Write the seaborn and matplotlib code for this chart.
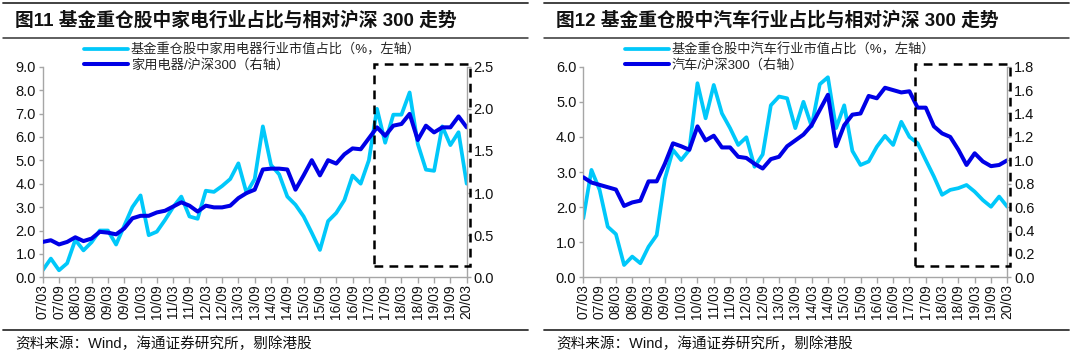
import numpy as np
import pandas as pd
import seaborn as sns
import matplotlib.pyplot as plt
from matplotlib.lines import Line2D
from matplotlib.patches import Rectangle

# quarterly data, 2007Q1 - 2020Q1
quarters = ['07/03', '07/06', '07/09', '07/12', '08/03', '08/06', '08/09', '08/12',
            '09/03', '09/06', '09/09', '09/12', '10/03', '10/06', '10/09', '10/12',
            '11/03', '11/06', '11/09', '11/12', '12/03', '12/06', '12/09', '12/12',
            '13/03', '13/06', '13/09', '13/12', '14/03', '14/06', '14/09', '14/12',
            '15/03', '15/06', '15/09', '15/12', '16/03', '16/06', '16/09', '16/12',
            '17/03', '17/06', '17/09', '17/12', '18/03', '18/06', '18/09', '18/12',
            '19/03', '19/06', '19/09', '19/12', '20/03']

# fig 11: home appliances
appl_share = [0.3, 0.8, 0.3, 0.6, 1.6, 1.15, 1.5, 2.0, 2.0, 1.4, 2.2, 3.0, 3.5, 1.8,
              1.95, 2.45, 3.0, 3.45, 2.6, 2.5, 3.7, 3.65, 3.9, 4.2, 4.87, 3.6, 4.2,
              6.45, 4.8, 4.4, 3.45, 3.1, 2.6, 1.9, 1.17, 2.4, 2.75, 3.3, 4.35, 4.0,
              5.0, 7.2, 5.75, 6.95, 6.95, 7.9, 5.7, 4.6, 4.55, 6.45, 5.65, 6.2, 4.0]
appl_rel = [0.42, 0.44, 0.39, 0.42, 0.475, 0.43, 0.46, 0.54, 0.53, 0.51, 0.58, 0.70,
            0.73, 0.73, 0.77, 0.79, 0.84, 0.89, 0.85, 0.78, 0.85, 0.83, 0.83, 0.85,
            0.94, 1.0, 1.04, 1.28, 1.29, 1.29, 1.28, 1.04, 1.21, 1.39, 1.21, 1.39,
            1.35, 1.46, 1.53, 1.52, 1.65, 1.78, 1.68, 1.80, 1.82, 1.94, 1.63, 1.80,
            1.72, 1.78, 1.78, 1.91, 1.78]

# fig 12: autos
auto_share = [1.68, 3.06, 2.49, 1.44, 1.23, 0.35, 0.59, 0.40, 0.87, 1.2, 2.8, 3.63,
              3.34, 3.63, 5.53, 4.53, 5.48, 4.67, 4.25, 3.77, 3.99, 3.15, 3.5, 4.9,
              5.15, 5.1, 4.25, 5.0, 4.3, 5.5, 5.7, 4.25, 4.9, 3.6, 3.2, 3.3, 3.72,
              4.03, 3.77, 4.43, 4.0, 3.82, 3.34, 2.87, 2.35, 2.49, 2.54, 2.63, 2.44,
              2.2, 2.01, 2.3, 2.01]
auto_rel = [0.855, 0.81, 0.79, 0.77, 0.75, 0.61, 0.64, 0.655, 0.82, 0.82, 0.97, 1.145,
            1.12, 1.09, 1.29, 1.17, 1.21, 1.11, 1.11, 1.03, 1.02, 0.97, 0.93, 1.01,
            1.03, 1.12, 1.17, 1.22, 1.30, 1.43, 1.56, 1.12, 1.30, 1.39, 1.40, 1.55,
            1.53, 1.62, 1.60, 1.58, 1.59, 1.45, 1.45, 1.29, 1.23, 1.20, 1.09, 0.96,
            1.06, 0.99, 0.95, 0.96, 1.00]

panels = [
    dict(title='图11 基金重仓股中家电行业占比与相对沪深 300 走势',
         share=appl_share, rel=appl_rel,
         lab1='基金重仓股中家用电器行业市值占比（%，左轴）',
         lab2='家用电器/沪深300（右轴）',
         ylim1=(0, 9), yt1=np.arange(0, 9.01, 1.0),
         ylim2=(0, 2.5), yt2=np.arange(0, 2.51, 0.5), fmt2='%.1f',
         box=(40.65, 0.135, 52.35, 2.53)),
    dict(title='图12 基金重仓股中汽车行业占比与相对沪深 300 走势',
         share=auto_share, rel=auto_rel,
         lab1='基金重仓股中汽车行业市值占比（%，左轴）',
         lab2='汽车/沪深300（右轴）',
         ylim1=(0, 6), yt1=np.arange(0, 6.01, 1.0),
         ylim2=(0, 1.8), yt2=np.arange(0, 1.81, 0.2), fmt2='%.1f',
         box=(40.65, 0.097, 52.35, 1.823)),
]

sns.set_theme(style='ticks')
plt.rcParams['font.family'] = ['Liberation Sans', 'Noto Sans CJK SC']
plt.rcParams['axes.unicode_minus'] = False

LIGHT = '#00C8FA'
DARK = '#0000E6'
GRID = '#A6A6A6'

W, H = 1080, 361
fig = plt.figure(figsize=(W / 100, H / 100), dpi=100)

ax_left_px = [42.7, 583.3]
ax_w_px = 424.0
ax_bot_px, ax_top_px = 277.3, 66.7
x_off = [0, 541]

for k, p in enumerate(panels):
    df = pd.DataFrame({'q': np.arange(len(quarters)), 'share': p['share'], 'rel': p['rel']})
    ax = fig.add_axes([ax_left_px[k] / W, 1 - ax_bot_px / H,
                       ax_w_px / W, (ax_bot_px - ax_top_px) / H])
    ax2 = ax.twinx()
    sns.lineplot(data=df, x='q', y='share', ax=ax, color=LIGHT, lw=2.7,
                 solid_joinstyle='round', solid_capstyle='round', label=p['lab1'], legend=False)
    sns.lineplot(data=df, x='q', y='rel', ax=ax2, color=DARK, lw=2.9,
                 solid_joinstyle='round', solid_capstyle='round', label=p['lab2'], legend=False)

    ax.set_xlim(0, len(quarters) - 1)
    ax.set_ylim(*p['ylim1'])
    ax2.set_ylim(*p['ylim2'])
    ax.set_yticks(p['yt1'])
    ax.set_yticklabels(['%.1f' % v for v in p['yt1']])
    ax2.set_yticks(p['yt2'])
    ax2.set_yticklabels([p['fmt2'] % v for v in p['yt2']])
    ax.set_xticks(np.arange(0, len(quarters), 2))
    ax.set_xticklabels(quarters[::2], rotation=90)
    ax.set_xlabel('')
    ax.set_ylabel('')
    ax2.set_ylabel('')

    for a in (ax, ax2):
        a.spines['top'].set_visible(False)
        for s in ('left', 'right', 'bottom'):
            a.spines[s].set_color(GRID)
            a.spines[s].set_linewidth(1.0)
        a.tick_params(colors=GRID, labelcolor='#111111', labelsize=10.5, length=3, width=1.0, pad=2)
    ax.spines['right'].set_visible(False)
    ax2.spines['left'].set_visible(False)
    ax2.spines['bottom'].set_visible(False)
    ax.tick_params(axis='x', labelsize=10, length=4, pad=1)

    x0, y0, x1, y1 = p['box']
    ax2.add_patch(Rectangle((x0, y0), x1 - x0, y1 - y0, fill=False, ec='black',
                            lw=1.8, ls=(0, (3.5, 2.5)), clip_on=False, zorder=5))

    h1, l1 = ax.get_legend_handles_labels()
    h2, l2 = ax2.get_legend_handles_labels()
    fig.legend(h1 + h2, l1 + l2, loc='upper left',
               bbox_to_anchor=((84 + x_off[k]) / W, 1 - 43 / H),
               frameon=False, fontsize=9.5, handlelength=3.3, handletextpad=0.25,
               labelspacing=0.2, borderpad=0, borderaxespad=0)

    # header / footer
    fig.text((15 + x_off[k]) / W, 1 - 20 / H, p['title'], fontsize=13.5, fontweight='bold',
             va='center', ha='left', color='#111111')
    fig.text((15 + x_off[k]) / W, 1 - 344 / H, '资料来源：Wind，海通证券研究所，剔除港股',
             fontsize=10.5, va='center', ha='left', color='#111111')
    lx0, lx1 = (3 + x_off[k]) / W, (528 + x_off[k]) / W
    for yy, lw in ((3.3, 1.3), (37.7, 1.1), (329.5, 1.3)):
        fig.add_artist(Line2D([lx0, lx1], [1 - yy / H, 1 - yy / H], color='#333333', lw=lw))

fig.savefig('out.png', dpi=100)
